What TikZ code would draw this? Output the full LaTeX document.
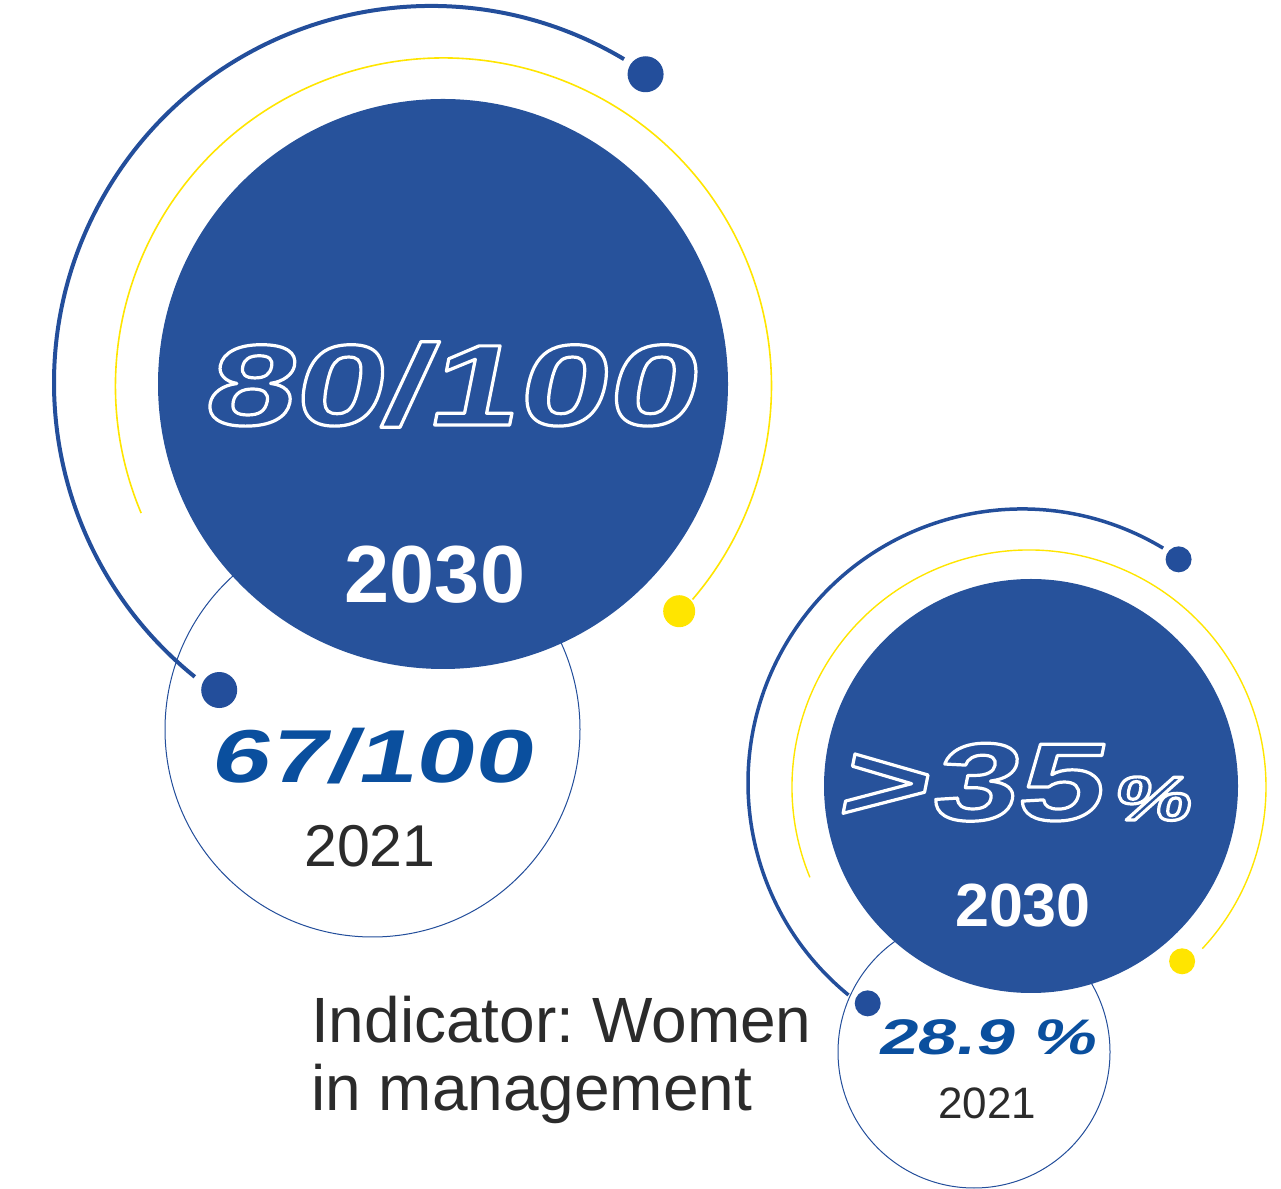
\documentclass[tikz,border=0pt]{standalone}
\usepackage{fontspec}
\setmainfont{Liberation Sans}
\newfontfamily\extfont{Liberation Sans Bold}[FakeStretch=1.4,FakeSlant=0.2]
\newfontfamily\boldsans{Liberation Sans Bold}
\usetikzlibrary{calc}
\definecolor{fillblue}{HTML}{27529B}
\definecolor{arcblue}{HTML}{234E9B}
\definecolor{textblue}{HTML}{0A4F9E}
\definecolor{yel}{HTML}{FFE500}
\definecolor{graytext}{HTML}{2B2B2B}
\newcommand\outlinetext[1]{\special{pdf:literal direct 1 Tr 3.2 w 1 j}#1\special{pdf:literal direct 0 Tr}}
\tikzset{
  disc/.style={circle, fill=fillblue, inner sep=0pt},
  ring/.style={circle, draw=arcblue, line width=1pt, fill=white, inner sep=0pt},
  bluearc/.style={draw=arcblue, line width=4pt},
  yelarc/.style={draw=yel, line width=1.6pt},
  bdot/.style={circle, fill=arcblue, inner sep=0pt},
  ydot/.style={circle, fill=yel, inner sep=0pt},
  lbl/.style={inner sep=0pt, anchor=base},
}
\frenchspacing
\begin{document}
\begin{tikzpicture}[x=1pt,y=1pt]
\useasboundingbox (0,0) rectangle (1281,1188);
% centres
\coordinate (b1c) at (431,805);
\coordinate (y1c) at (443.5,802);
\coordinate (b2c) at (1022,405);
\coordinate (y2c) at (1029,401);

% ---- group 1 ----
\node[ring, minimum size=415pt] (o1) at (372.5,458.5) {};
\draw[bluearc] (b1c) ++(59.2:377pt) arc[start angle=59.2, end angle=231.2, radius=377pt];
\draw[yelarc] (y1c) ++(202.8:328pt) arc[start angle=202.8, end angle=-40.6, radius=328pt];
\node[bdot, minimum size=36pt] (d1a) at ($(b1c)+(55.2:376pt)$) {};
\node[bdot, minimum size=36pt] (d1b) at ($(b1c)+(235.4:373pt)$) {};
\node[ydot, minimum size=32pt] (d1y) at ($(y1c)+(-43.7:326pt)$) {};
\node[disc, minimum size=570pt] (c1) at (443,804) {};

\node[lbl, text=white] (t80) at (447,763)
  {\extfont\fontsize{115}{115}\selectfont\outlinetext{80/100}};
\node[lbl, text=white] (t2030a) at (435,585)
  {\boldsans\fontsize{81}{81}\selectfont 2030};
\node[lbl, text=textblue] (t67) at (370,405)
  {\extfont\fontsize{75}{75}\selectfont 67/100};
\node[lbl, text=graytext] (t2021a) at (370,321)
  {\fontsize{59}{59}\selectfont 2021};

% ---- group 2 ----
\node[ring, minimum size=272pt] (o2) at (974,136) {};
\draw[bluearc, line width=3.5pt] (b2c) ++(59:274pt) arc[start angle=59, end angle=230.7, radius=274pt];
\draw[yelarc, line width=1.4pt] (y2c) ++(202.4:237pt) arc[start angle=202.4, end angle=-43, radius=237pt];
\node[bdot, minimum size=26pt] (d2a) at ($(b2c)+(55:273pt)$) {};
\node[bdot, minimum size=26pt] (d2b) at ($(b2c)+(235:269pt)$) {};
\node[ydot, minimum size=26pt] (d2y) at ($(y2c)+(-48.7:232pt)$) {};
\node[disc, minimum size=414pt] (c2) at (1031,402) {};

\node[lbl, text=white] (t35) at (1012,368)
  {\extfont\outlinetext{\fontsize{110}{110}\selectfont >\kern3pt 35\kern12pt\fontsize{62}{62}\selectfont\%}};
\node[lbl, text=white] (t2030b) at (1023,261)
  {\boldsans\fontsize{61}{61}\selectfont 2030};
\node[lbl, text=textblue] (t289) at (986,133)
  {\extfont\fontsize{50}{50}\selectfont 28.9 \%};
\node[lbl, text=graytext] (t2021b) at (987,70)
  {\fontsize{44}{44}\selectfont 2021};

% ---- caption ----
\node[inner sep=0pt, anchor=base west, text=graytext] (ind1) at (311,146)
  {\fontsize{64}{64}\selectfont Indicator: Women};
\node[inner sep=0pt, anchor=base west, text=graytext] (ind2) at (311,78)
  {\fontsize{64}{64}\selectfont in management};
\end{tikzpicture}
\end{document}
